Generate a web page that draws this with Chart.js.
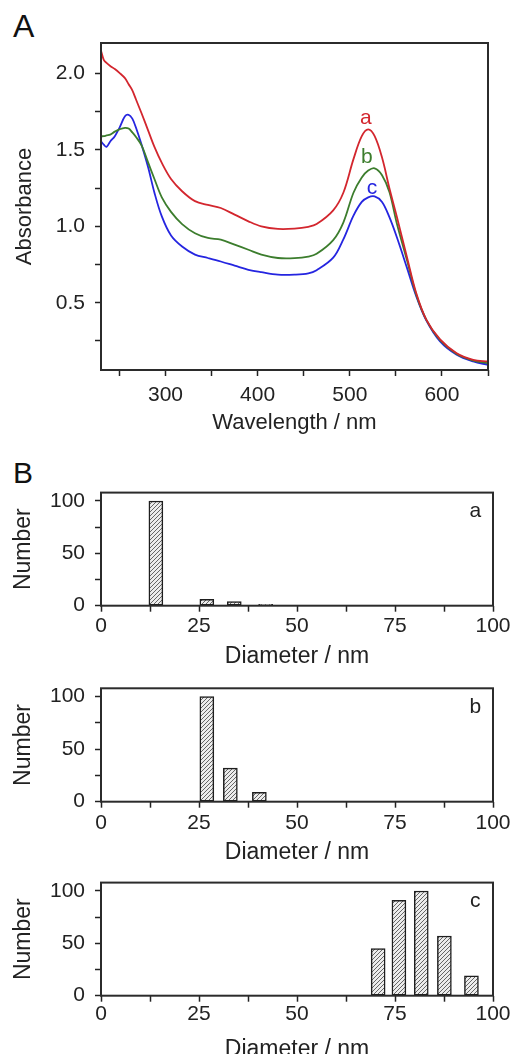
<!DOCTYPE html>
<html>
<head>
<meta charset="utf-8">
<script src="https://cdn.jsdelivr.net/npm/chart.js@4.4.1/dist/chart.umd.min.js"></script>
<style>
  body { margin: 0; background: #fff; width: 514px; height: 1054px; overflow: hidden; position: relative;
         font-family: 'Liberation Sans', Arial, sans-serif; }
  canvas { position: absolute; left: 0; }
  .tag { position: absolute; left: 13px; color: #111; }
</style>
</head>
<body>
<div class="tag" style="top:9.6px;font-size:32px;line-height:32px">A</div>
<div class="tag" style="top:458px;font-size:30px;line-height:30px">B</div>
<canvas id="spec" width="514" height="445" style="top:0"></canvas>
<canvas id="histA" width="514" height="205" style="top:470px"></canvas>
<canvas id="histB" width="514" height="205" style="top:665px"></canvas>
<canvas id="histC" width="514" height="220" style="top:860px"></canvas>
<script>
'use strict'

// panel A: absorbance spectra
const wavelength = [230, 233, 236, 240, 245, 250, 256, 260, 264, 268, 274, 281, 288, 296, 306, 318, 332, 346, 360, 375, 390, 404, 422, 440, 455, 464, 482, 493, 504, 513, 520, 527, 535, 543, 551, 562, 572, 583, 598, 616, 634, 650];
const absA = [2.15, 2.09, 2.07, 2.05, 2.03, 2.005, 1.97, 1.93, 1.89, 1.83, 1.74, 1.63, 1.52, 1.415, 1.31, 1.23, 1.165, 1.14, 1.12, 1.077, 1.033, 1.0, 0.983, 0.985, 0.997, 1.015, 1.105, 1.22, 1.44, 1.59, 1.635, 1.59, 1.45, 1.25, 1.065, 0.80, 0.565, 0.39, 0.26, 0.17, 0.127, 0.116];
const absB = [1.59, 1.59, 1.595, 1.60, 1.62, 1.635, 1.645, 1.64, 1.615, 1.585, 1.53, 1.42, 1.31, 1.19, 1.095, 1.015, 0.955, 0.924, 0.913, 0.88, 0.847, 0.815, 0.793, 0.792, 0.802, 0.82, 0.91, 1.025, 1.22, 1.32, 1.365, 1.38, 1.335, 1.225, 1.02, 0.78, 0.555, 0.39, 0.255, 0.165, 0.122, 0.105];
const absC = [1.556, 1.535, 1.52, 1.555, 1.59, 1.645, 1.72, 1.73, 1.705, 1.645, 1.535, 1.39, 1.22, 1.065, 0.94, 0.868, 0.815, 0.793, 0.77, 0.743, 0.716, 0.70, 0.684, 0.684, 0.692, 0.713, 0.795, 0.915, 1.07, 1.16, 1.19, 1.196, 1.16, 1.06, 0.93, 0.73, 0.545, 0.385, 0.247, 0.16, 0.116, 0.094];
const specXLabels = [300, 400, 500, 600];
const specYLabels = [0.5, 1.0, 1.5, 2.0];

// panel B: size histograms
const diamA = [14, 27, 34, 42];
const countA = [100, 6, 4, 1.3];
const diamB = [27, 33, 40.4];
const countB = [100, 32, 9];
const diamC = [70.7, 76, 81.7, 87.6, 94.5];
const countC = [45, 91, 100, 57, 19];
const sizeXLabels = [0, 25, 50, 75, 100];
const sizeYLabels = [0, 50, 100];

const FONT = "'Liberation Sans', Arial, sans-serif";
const INK = '#222';
const RED = '#d3262e';
const GREEN = '#3c7d2d';
const BLUE = '#2525e0';

function inList(list, v) {
    return list.some(t => Math.abs(t - v) < 1e-6);
}

// box round the plot + letters inside
const frame = {
    id: 'frame',
    afterDraw(chart, args, opts) {
        const ctx = chart.ctx;
        const a = chart.chartArea;
        ctx.save();
        ctx.strokeStyle = '#2b2b2b';
        ctx.lineWidth = 2;
        ctx.strokeRect(a.left, a.top, a.right - a.left, a.bottom - a.top);
        ctx.textAlign = 'center';
        ctx.textBaseline = 'middle';
        for (const t of (opts.tags || [])) {
            ctx.fillStyle = t.color;
            ctx.font = t.size + 'px ' + FONT;
            ctx.fillText(t.text, chart.scales.x.getPixelForValue(t.x), chart.scales.y.getPixelForValue(t.y));
        }
        ctx.restore();
    }
};

function axis(min, max, step, labels, fmt, title, titleSize, titlePad, tickPad, fit) {
    return {
        type: 'linear', min: min, max: max, offset: false,
        grid: { drawOnChartArea: false, offset: false, color: INK, tickLength: 6, tickWidth: 1.5 },
        border: { display: false },
        ticks: {
            stepSize: step, includeBounds: false, autoSkip: false, maxRotation: 0,
            padding: tickPad, color: INK, font: { family: FONT, size: 21 },
            callback: v => inList(labels, v) ? fmt(v) : ''
        },
        title: { display: true, text: title, color: INK, font: { family: FONT, size: titleSize }, padding: titlePad },
        afterFit: fit
    };
}

const hatch = (function () {
    const p = document.createElement('canvas');
    p.width = 4; p.height = 4;
    const c = p.getContext('2d');
    c.fillStyle = '#ececec';
    c.fillRect(0, 0, 4, 4);
    c.strokeStyle = '#666';
    c.lineWidth = 1;
    c.beginPath();
    c.moveTo(0, 4); c.lineTo(4, 0);
    c.moveTo(-1, 1); c.lineTo(1, -1);
    c.moveTo(3, 5); c.lineTo(5, 3);
    c.stroke();
    return document.getElementById('spec').getContext('2d').createPattern(p, 'repeat');
})();

function line(values, color) {
    return {
        data: wavelength.map((w, i) => ({ x: w, y: values[i] })),
        borderColor: color, borderWidth: 1.8, pointRadius: 0,
        tension: 0.35, fill: false
    };
}

new Chart(document.getElementById('spec'), {
    type: 'line',
    data: { datasets: [line(absA, RED), line(absB, GREEN), line(absC, BLUE)] },
    options: {
        responsive: false, animation: false,
        layout: { padding: { top: 43, right: 26, left: 0, bottom: 0 } },
        plugins: {
            legend: { display: false }, tooltip: { enabled: false },
            frame: { tags: [
                { text: 'a', x: 517.5, y: 1.71, color: RED, size: 21 },
                { text: 'b', x: 518.5, y: 1.45, color: GREEN, size: 21 },
                { text: 'c', x: 524, y: 1.253, color: BLUE, size: 21 }
            ] }
        },
        scales: {
            x: axis(230, 650, 50, specXLabels, v => String(v), 'Wavelength / nm', 22,
                { top: 0, bottom: 8.8 }, 6.4, s => { s.height = 75; }),
            y: axis(0.06, 2.2, 0.25, specYLabels, v => v.toFixed(1), 'Absorbance', 22,
                { top: 11.8, bottom: 0 }, 10, s => { s.width = 101; })
        }
    },
    plugins: [frame]
});

function histogram(id, diam, count, letter, padTop, xHeight, titleBottom, tickPad) {
    new Chart(document.getElementById(id), {
        type: 'bar',
        data: { datasets: [{
            data: diam.map((d, i) => ({ x: d, y: count[i] })),
            backgroundColor: hatch, borderColor: '#1e1e1e', borderWidth: 1.5,
            borderSkipped: false, barThickness: 14
        }] },
        options: {
            responsive: false, animation: false,
            layout: { padding: { top: padTop, right: 21, left: 0, bottom: 0 } },
            plugins: {
                legend: { display: false }, tooltip: { enabled: false },
                frame: { tags: [{ text: letter, x: 95.5, y: 90, color: INK, size: 21 }] }
            },
            scales: {
                x: axis(0, 100, 12.5, sizeXLabels, v => String(v), 'Diameter / nm', 23,
                    { top: 0, bottom: titleBottom }, tickPad, s => { s.height = xHeight; }),
                y: axis(0, 108, 25, sizeYLabels, v => String(v), 'Number', 23,
                    { top: 10.2, bottom: 0 }, 10, s => { s.width = 101; })
            }
        },
        plugins: [frame]
    });
}

histogram('histA', diamA, countA, 'a', 20.7, 69.3, 4.2, 2.2);
histogram('histB', diamB, countB, 'b', 23.3, 68.3, 3.2, 3.2);
histogram('histC', diamC, countC, 'c', 21.7, 84.3, 16.2, 0.2);
</script>
</body>
</html>
